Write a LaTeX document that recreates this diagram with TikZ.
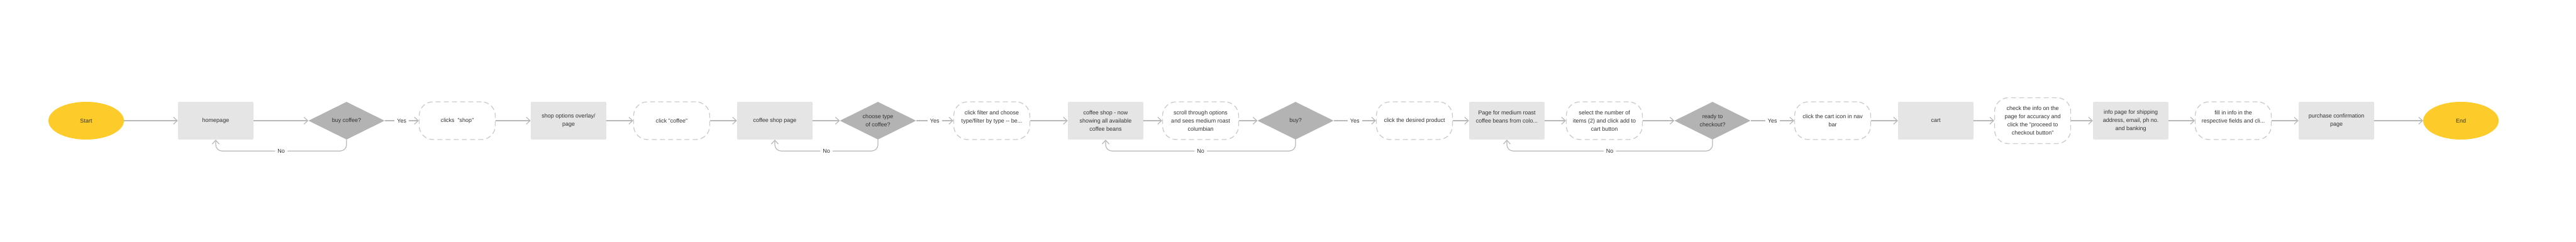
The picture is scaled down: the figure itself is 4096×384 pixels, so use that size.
\documentclass[tikz,border=0pt]{standalone}
\usepackage{fontspec}
\setmainfont{Liberation Sans}
\usetikzlibrary{arrows.meta, shapes.geometric}
\definecolor{termyellow}{RGB}{253,204,42}
\definecolor{pagegray}{RGB}{229,229,229}
\definecolor{decgray}{RGB}{179,179,179}
\definecolor{linegray}{RGB}{184,184,184}
\definecolor{dashgray}{RGB}{204,204,204}
\definecolor{txtgray}{RGB}{51,51,51}

\begin{document}
\begin{tikzpicture}[x=1pt, y=1pt,
    every node/.style={font=\fontsize{9}{13}\selectfont, text=txtgray, align=center},
    terminal/.style={ellipse, fill=termyellow, minimum width=120pt, minimum height=60pt, inner sep=0pt},
    page/.style={fill=pagegray, rounded corners=2pt, minimum width=120pt, minimum height=60pt},
    action/.style={draw=dashgray, line width=1.3pt, dash pattern=on 8pt off 5pt, rounded corners=22pt, fill=white, minimum width=121pt, minimum height=60pt},
    decision/.style={diamond, aspect=2, fill=decgray, minimum width=121pt, minimum height=60pt, inner sep=0pt},
    flow/.style={draw=linegray, line width=1.2pt, -{Straight Barb[length=6pt, width=11pt]}},
    loop/.style={flow, rounded corners=10pt},
    lbl/.style={fill=white, inner xsep=4pt, inner ysep=1pt}]
    \useasboundingbox (0,-192) rectangle (4096,192);

    % start and first choice
    \node[terminal] (start) at (137,0) {Start};
    \node[page] (home) at (343,0) {homepage};
    \node[decision] (buycoffee) at (551,0) {buy coffee?};
    \node[action] (clickshop) at (727,0) {clicks \ "shop"};
    \node[page] (shopopts) at (904,0) {shop options overlay/\\page};
    \node[action] (clickcoffee) at (1068,0) {click "coffee"};
    \node[page] (shoppage) at (1232,0) {coffee shop page};

    % choosing the beans
    \node[decision] (choosetype) at (1396,0) {choose type\\of coffee?};
    \node[action] (filter) at (1577,0) {click filter and choose\\type/filter by type {-}{-} be...\\\mbox{}};
    \node[page] (beans) at (1758,0) {coffee shop - now\\showing all available\\coffee beans};
    \node[action] (scroll) at (1909,0) {scroll through options\\and sees medium roast\\columbian};
    \node[decision] (buyq) at (2060,0) {buy?};
    \node[action] (desired) at (2249,0) {click the desired product};
    \node[page] (product) at (2396,0) {Page for medium roast\\coffee beans from colo...\\\mbox{}};
    \node[action] (select) at (2551,0) {select the number of\\items (2) and click add to\\cart button};

    % checkout
    \node[decision] (ready) at (2723,0) {ready to\\checkout?};
    \node[action] (carticon) at (2914,0) {click the cart icon in nav\\bar};
    \node[page] (cart) at (3078,0) {cart};
    \node[action, minimum height=73pt] (check) at (3232,0) {check the info on the\\page for accuracy and\\click the "proceed to\\checkout button"};
    \node[page] (info) at (3388,0) {info page for shipping\\address, email, ph no.\\and banking};
    \node[action] (fillin) at (3551,0) {fill in info in the\\respective fields and cli...\\\mbox{}};
    \node[page] (confirm) at (3715,0) {purchase confirmation\\page};
    \node[terminal] (stop) at (3913,0) {End};

    % main line
    \draw[flow] (start) -- (home);
    \draw[flow] (home) -- (buycoffee);
    \draw[flow] (buycoffee) -- node[lbl] {Yes} (clickshop);
    \draw[flow] (clickshop) -- (shopopts);
    \draw[flow] (shopopts) -- (clickcoffee);
    \draw[flow] (clickcoffee) -- (shoppage);
    \draw[flow] (shoppage) -- (choosetype);
    \draw[flow] (choosetype) -- node[lbl] {Yes} (filter);
    \draw[flow] (filter) -- (beans);
    \draw[flow] (beans) -- (scroll);
    \draw[flow] (scroll) -- (buyq);
    \draw[flow] (buyq) -- node[lbl] {Yes} (desired);
    \draw[flow] (desired) -- (product);
    \draw[flow] (product) -- (select);
    \draw[flow] (select) -- (ready);
    \draw[flow] (ready) -- node[lbl] {Yes} (carticon);
    \draw[flow] (carticon) -- (cart);
    \draw[flow] (cart) -- (check);
    \draw[flow] (check) -- (info);
    \draw[flow] (info) -- (fillin);
    \draw[flow] (fillin) -- (confirm);
    \draw[flow] (confirm) -- (stop);

    % "No" loops back
    \draw[loop] (buycoffee.south) -- ++(0,-18) -| node[pos=0.25, lbl] {No} (home.south);
    \draw[loop] (choosetype.south) -- ++(0,-18) -| node[pos=0.25, lbl] {No} (shoppage.south);
    \draw[loop] (buyq.south) -- ++(0,-18) -| node[pos=0.25, lbl] {No} (beans.south);
    \draw[loop] (ready.south) -- ++(0,-18) -| node[pos=0.25, lbl] {No} (product.south);
\end{tikzpicture}
\end{document}
